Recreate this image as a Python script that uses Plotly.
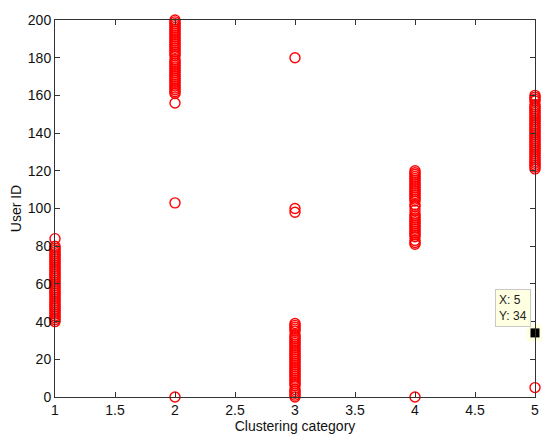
import plotly.graph_objects as go

# Cluster assignments (x = cluster category, y = user ID)
cluster1_ids = [40, 41, 42, 43, 44, 45, 46, 47, 48, 49, 50, 51, 52, 53, 54, 55, 56, 57, 58, 59,
                60, 61, 62, 63, 64, 65, 66, 67, 68, 69, 70, 71, 72, 73, 74, 75, 76, 77, 78, 79, 80, 84]
cluster2_ids = [0, 103, 156, 161, 162, 163, 164, 165, 166, 167, 168, 169, 170, 171, 172, 173, 174,
                175, 176, 177, 178, 179, 181, 182, 183, 184, 185, 186, 187, 188, 189, 190, 191, 192,
                193, 194, 195, 196, 197, 198, 199, 200]
cluster3_ids = [0, 1, 2, 3, 4, 6, 7, 8, 9, 10, 11, 12, 13, 14, 15, 16, 17, 18, 19, 20, 21, 22, 23,
                24, 25, 26, 27, 28, 29, 30, 31, 32, 33, 35, 36, 37, 38, 39, 98, 100, 180]
cluster4_ids = [0, 81, 82, 83, 85, 86, 87, 88, 89, 90, 91, 92, 93, 94, 95, 96, 97, 99, 101, 102,
                104, 105, 106, 107, 108, 109, 110, 111, 112, 113, 114, 115, 116, 117, 118, 119, 120]
cluster5_ids = [5, 34, 121, 122, 123, 124, 125, 126, 127, 128, 129, 130, 131, 132, 133, 134, 135,
                136, 137, 138, 139, 140, 141, 142, 143, 144, 145, 146, 147, 148, 149, 150, 151, 152,
                153, 154, 155, 157, 158, 159, 160]
cluster_ids = [1, 2, 3, 4, 5]
all_groups = [cluster1_ids, cluster2_ids, cluster3_ids, cluster4_ids, cluster5_ids]

datatip_x = 5
datatip_y = 34

x_ticks = [1, 1.5, 2, 2.5, 3, 3.5, 4, 4.5, 5]
x_ticklabels = ["1", "1.5", "2", "2.5", "3", "3.5", "4", "4.5", "5"]
y_ticks = [0, 20, 40, 60, 80, 100, 120, 140, 160, 180, 200]

xs, ys = [], []
for c, grp in zip(cluster_ids, all_groups):
    xs += [c] * len(grp)
    ys += grp

fig = go.Figure()
fig.add_trace(go.Scatter(
    x=xs, y=ys, mode="markers",
    marker=dict(symbol="circle-open", size=10, color="#ff0000", line=dict(width=1.4, color="#ff0000")),
    cliponaxis=False, showlegend=False, hoverinfo="skip"))

# data tip marker
fig.add_trace(go.Scatter(
    x=[datatip_x], y=[datatip_y], mode="markers",
    marker=dict(symbol="square", size=17, color="#ffffe1", line=dict(width=0)),
    cliponaxis=False, showlegend=False, hoverinfo="skip"))
fig.add_trace(go.Scatter(
    x=[datatip_x], y=[datatip_y], mode="markers",
    marker=dict(symbol="square", size=9, color="#000000", line=dict(width=0)),
    cliponaxis=False, showlegend=False, hoverinfo="skip"))

fig.add_annotation(
    x=datatip_x, y=datatip_y, xref="x", yref="y",
    text=f"X: {datatip_x}<br>Y: {datatip_y}",
    showarrow=False, xanchor="right", yanchor="bottom",
    xshift=-4, yshift=6, align="left",
    bgcolor="#ffffe1", bordercolor="#c8c8c8", borderwidth=1, borderpad=3,
    font=dict(family="Liberation Sans, Arial", size=12, color="#222222"))

axis_common = dict(
    showline=True, linecolor="#333333", linewidth=1, mirror="ticks",
    ticks="inside", ticklen=5, tickcolor="#333333", showgrid=False, zeroline=False,
    automargin=False,
    tickfont=dict(family="Liberation Sans, Arial", size=14, color="#111111"))

fig.update_xaxes(range=[1, 5], tickvals=x_ticks, ticktext=x_ticklabels,
                 title=dict(text="Clustering category", standoff=4,
                            font=dict(family="Liberation Sans, Arial", size=14, color="#111111")),
                 **axis_common)
fig.update_yaxes(range=[0, 200], tickvals=y_ticks,
                 title=dict(text="User ID", standoff=8,
                            font=dict(family="Liberation Sans, Arial", size=14, color="#111111")),
                 **axis_common)

# page body has an 8px margin; size the figure so the plot area lands where the reference has it
fig.update_layout(
    width=542, height=435,
    margin=dict(l=47, r=15, t=12, b=46),
    plot_bgcolor="white", paper_bgcolor="white")

fig.write_html("out.html")
